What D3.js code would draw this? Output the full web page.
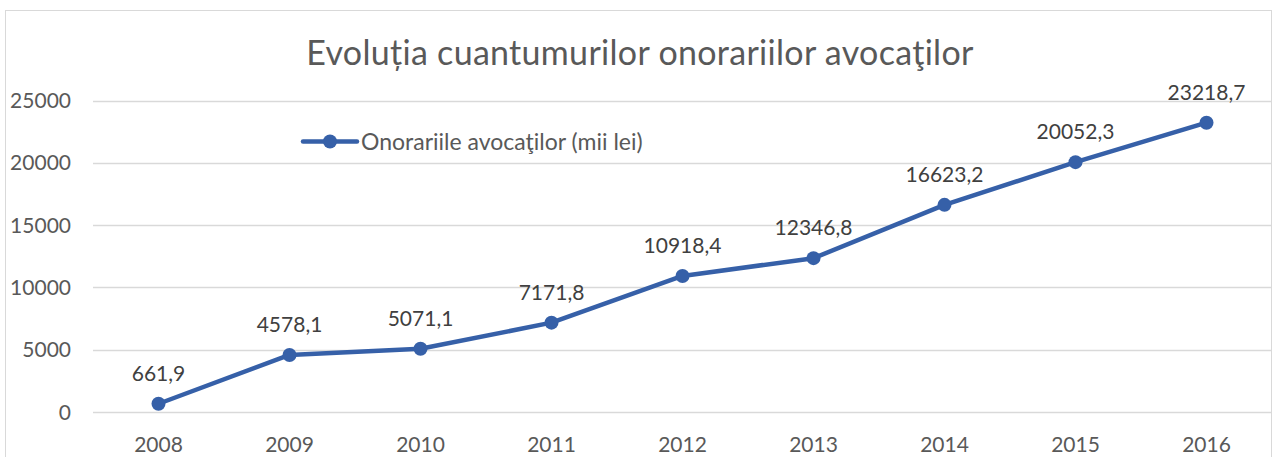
<!DOCTYPE html>
<html>
<head>
<meta charset="utf-8">
<script src="https://cdn.jsdelivr.net/npm/d3@7"></script>
<style>
  body { margin: 0; background: #fff; }
  svg { display: block; font-family: Lato, "Liberation Sans", "DejaVu Sans", sans-serif; }
</style>
</head>
<body>
<svg id="chart"></svg>
<script>
// Data
const years = ["2008", "2009", "2010", "2011", "2012", "2013", "2014", "2015", "2016"];
const values = [661.9, 4578.1, 5071.1, 7171.8, 10918.4, 12346.8, 16623.2, 20052.3, 23218.7];
const labels = ["661,9", "4578,1", "5071,1", "7171,8", "10918,4", "12346,8", "16623,2", "20052,3", "23218,7"];
const yTicks = [0, 5000, 10000, 15000, 20000, 25000];
const seriesName = "Onorariile avocaţilor (mii lei)";
const title = "Evoluția cuantumurilor onorariilor avocaţilor";

let width = 1275;
let height = 457;

let margin = { top: 100, right: 3, bottom: 45, left: 93 };

let svg = d3.select("#chart")
    .attr("width", width)
    .attr("height", height);

// Chart border
svg.append("rect")
    .attr("x", 5.5)
    .attr("y", 10.5)
    .attr("width", 1266)
    .attr("height", 460)
    .attr("fill", "none")
    .attr("stroke", "#d9d9d9")
    .attr("stroke-width", 1);

// Scales
let xScale = d3.scaleBand()
    .domain(years)
    .range([margin.left, width - margin.right]);

let yScale = d3.scaleLinear()
    .domain([0, 25000])
    .range([412, 100.5]);

// Gridlines
svg.append("g")
    .selectAll("line")
    .data(yTicks)
    .enter().append("line")
    .attr("x1", margin.left)
    .attr("x2", 1271)
    .attr("y1", d => Math.round(yScale(d)) + 0.5)
    .attr("y2", d => Math.round(yScale(d)) + 0.5)
    .attr("stroke", "#d9d9d9")
    .attr("stroke-width", 1.5);

// Y axis labels
let yAxis = svg.append("g")
    .attr("transform", `translate(71, 0)`)
    .call(d3.axisLeft(yScale).tickValues(yTicks).tickSize(0).tickPadding(0).tickFormat(d3.format("d")));
yAxis.select(".domain").remove();
yAxis.selectAll("text")
    .attr("fill", "#595959")
    .attr("dy", "0.34em")
    .style("font-size", "21px")
    .style("font-family", "Lato, 'Liberation Sans', sans-serif");

// X axis labels
let xAxis = svg.append("g")
    .attr("transform", `translate(0, 437)`)
    .call(d3.axisBottom(xScale).tickSize(0).tickPadding(0));
xAxis.select(".domain").remove();
xAxis.selectAll("text")
    .attr("fill", "#595959")
    .style("font-size", "21px")
    .style("font-family", "Lato, 'Liberation Sans', sans-serif");

// Title
svg.append("text")
    .attr("x", 640)
    .attr("y", 65)
    .attr("text-anchor", "middle")
    .attr("fill", "#595959")
    .style("font-size", "34px")
    .style("letter-spacing", "0.3px")
    .text(title);

let cx = d => xScale(d) + xScale.bandwidth() / 2;

// Line
let line = d3.line()
    .x((d, i) => cx(years[i]))
    .y(d => yScale(d));

svg.append("path")
    .datum(values)
    .attr("d", line)
    .attr("fill", "none")
    .attr("stroke", "#3660a8")
    .attr("stroke-width", 4.5)
    .attr("stroke-linejoin", "round");

// Markers
svg.selectAll(".dot")
    .data(values)
    .enter().append("circle")
    .attr("class", "dot")
    .attr("cx", (d, i) => cx(years[i]))
    .attr("cy", d => yScale(d))
    .attr("r", 7)
    .attr("fill", "#3660a8");

// Data labels
svg.selectAll(".lbl")
    .data(values)
    .enter().append("text")
    .attr("class", "lbl")
    .attr("x", (d, i) => cx(years[i]))
    .attr("y", d => yScale(d) - 23)
    .attr("text-anchor", "middle")
    .attr("fill", "#404040")
    .style("font-size", "21px")
    .text((d, i) => labels[i]);

// Legend
let legend = svg.append("g").attr("transform", "translate(303, 141.5)");
legend.append("line")
    .attr("x1", 0).attr("x2", 54)
    .attr("y1", 0).attr("y2", 0)
    .attr("stroke", "#3660a8")
    .attr("stroke-width", 4.5)
    .attr("stroke-linecap", "round");
legend.append("circle")
    .attr("cx", 27).attr("cy", 0)
    .attr("r", 7)
    .attr("fill", "#3660a8");
legend.append("text")
    .attr("x", 58)
    .attr("y", 8)
    .attr("fill", "#595959")
    .style("font-size", "23px")
    .text(seriesName);
</script>
</body>
</html>
